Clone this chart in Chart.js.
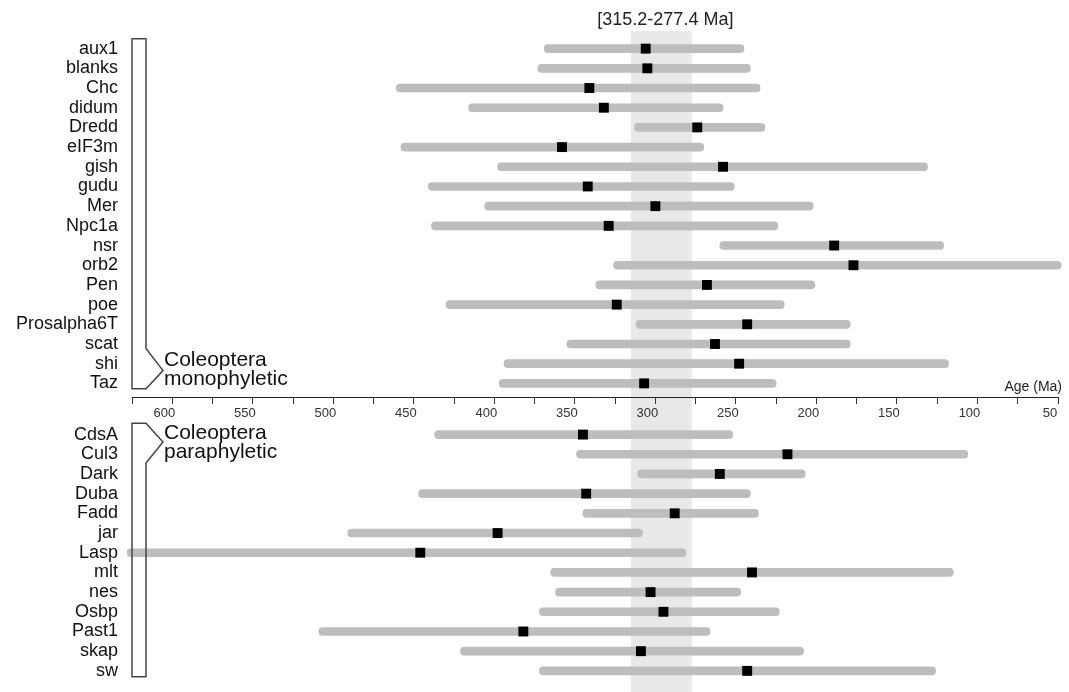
<!DOCTYPE html>
<html>
<head>
<meta charset="utf-8">
<script src="https://cdn.jsdelivr.net/npm/chart.js@4"></script>
<style>
body{margin:0;background:#fff;}
#wrap{width:1069px;height:692px;}
</style>
</head>
<body>
<div id="wrap"><canvas id="mainChart" width="1069" height="692"></canvas></div>
<script>
// ================= DATA =================
let topGenes = ["aux1","blanks","Chc","didum","Dredd","eIF3m","gish","gudu","Mer","Npc1a","nsr","orb2","Pen","poe","Prosalpha6T","scat","shi","Taz"]
let topOld   = [369,373,461,416,313,458,398,441,406,439,260,326,337,430,312,355,394,397]
let topAge   = [306,305,341,332,274,358,258,342,300,329,189,177,268,324,243,263,248,307]
let topYoung = [245,241,235,258,232,270,131,251,202,224,121,48,201,220,179,179,118,225]

let bottomGenes = ["CdsA","Cul3","Dark","Duba","Fadd","jar","Lasp","mlt","nes","Osbp","Past1","skap","sw"]
let bottomOld   = [437,349,311,447,345,491,628,365,362,372,509,421,372]
let bottomAge   = [345,218,260,343,288,398,446,240,303,295,382,309,243]
let bottomYoung = [252,106,207,241,236,308,281,115,247,223,266,208,126]

let bandFrom = 315.2
let bandTo = 277.4
let bandLabel = "[315.2-277.4 Ma]"
let axisMin = 50
let axisMax = 625
let axisStep = 25

// ================= LAYOUT =================
let groupGap = 2.6
let axisRow = 17.72
let FONT = "'Liberation Sans', Arial, sans-serif"

let names = topGenes.concat(bottomGenes)
let rowPos = topGenes.map((g,i)=>i).concat(bottomGenes.map((g,i)=>topGenes.length - 1 + groupGap + i))
let olds = topOld.concat(bottomOld)
let ages = topAge.concat(bottomAge)
let youngs = topYoung.concat(bottomYoung)

let bars = names.map((n,i)=>({x:[olds[i],youngs[i]], y:rowPos[i]}))
let points = names.map((n,i)=>({x:ages[i], y:rowPos[i]}))

// ================= PLUGINS =================
let bandPlugin = {
id:"band",
beforeDraw(chart){
let ctx = chart.ctx
let xs = chart.scales.x
let a = xs.getPixelForValue(bandFrom)
let b = xs.getPixelForValue(bandTo)
ctx.save()
ctx.fillStyle = "#e8e8e8"
ctx.fillRect(a, 31, b-a, chart.height-31)
ctx.fillStyle = "#222"
ctx.font = "18px " + FONT
ctx.textAlign = "center"
ctx.textBaseline = "middle"
ctx.fillText(bandLabel, (a+b)/2 + 4, 20)
ctx.restore()
}
}

// bracket with the point near its top (paraphyletic)
function drawBracket(ctx, left, top, bottom, tipY){
let right = left + 14
let tipX = left + 31
ctx.beginPath()
ctx.moveTo(left, top)
ctx.lineTo(right, top)
ctx.lineTo(tipX, tipY)
ctx.lineTo(right, tipY + 21)
ctx.lineTo(right, bottom)
ctx.lineTo(left, bottom)
ctx.closePath()
ctx.stroke()
}

// bracket with the point near its bottom (monophyletic)
function drawBracketUp(ctx, left, top, bottom, tipY){
let right = left + 14
let tipX = left + 31
ctx.beginPath()
ctx.moveTo(left, top)
ctx.lineTo(right, top)
ctx.lineTo(right, tipY - 22)
ctx.lineTo(tipX, tipY)
ctx.lineTo(right, bottom)
ctx.lineTo(left, bottom)
ctx.closePath()
ctx.stroke()
}

let bracketPlugin = {
id:"brackets",
afterDatasetsDraw(chart){
let ctx = chart.ctx
let ys = chart.scales.y
let left = chart.chartArea.left
let lastTop = rowPos[topGenes.length-1]
let firstBot = rowPos[topGenes.length]
let lastBot = rowPos[rowPos.length-1]

ctx.save()
ctx.strokeStyle = "#444"
ctx.lineWidth = 1.5

let t1 = ys.getPixelForValue(-0.5)
let b1 = ys.getPixelForValue(lastTop + 0.27)
let tip1 = ys.getPixelForValue(lastTop - 0.65)
drawBracketUp(ctx, left, t1, b1, tip1)

let t2 = ys.getPixelForValue(firstBot - 0.57)
let b2 = ys.getPixelForValue(lastBot + 0.3)
let tip2 = ys.getPixelForValue(firstBot + 0.38)
drawBracket(ctx, left, t2, b2, tip2)

ctx.fillStyle = "#111"
ctx.font = "21px " + FONT
ctx.textAlign = "left"
ctx.textBaseline = "alphabetic"
ctx.fillText("Coleoptera", left + 32, tip1 - 5)
ctx.fillText("monophyletic", left + 32, tip1 + 14.5)
ctx.fillText("Coleoptera", left + 32, tip2 - 3)
ctx.fillText("paraphyletic", left + 32, tip2 + 16)

// axis title
let ax = ys.getPixelForValue(axisRow)
ctx.font = "14px " + FONT
ctx.textAlign = "right"
ctx.textBaseline = "middle"
ctx.fillStyle = "#222"
ctx.fillText("Age (Ma)", chart.chartArea.right + 4, ax - 10)
ctx.restore()
}
}

// ================= CHART =================
let ctx = document.getElementById("mainChart")

new Chart(ctx,{
type:"bar",
data:{
datasets:[
{
type:"scatter",
data:points,
order:0,
pointStyle:"rect",
pointRadius:7,
pointHoverRadius:7,
pointBorderWidth:0,
backgroundColor:"#000",
borderColor:"#000"
},
{
type:"bar",
data:bars,
order:1,
backgroundColor:"#bdbdbd",
barThickness:8,
borderRadius:4,
borderSkipped:false,
clip:false
}
]
},
plugins:[bandPlugin, bracketPlugin],
options:{
indexAxis:"y",
responsive:false,
animation:false,
events:[],
layout:{padding:{top:28,right:11,bottom:0,left:0}},
plugins:{legend:{display:false},tooltip:{enabled:false}},
scales:{
x:{
type:"linear",
reverse:true,
min:axisMin,
max:axisMax,
position:{y:axisRow},
afterFit:(scale)=>{ scale.height = 0 },
grid:{drawOnChartArea:false,drawTicks:true,tickLength:6,color:"#333"},
border:{display:true,color:"#222",width:1},
ticks:{
stepSize:axisStep,
autoSkip:false,
maxRotation:0,
padding:2,
labelOffset:-8,
color:"#333",
font:{size:13,family:FONT},
callback:(v)=> v % 50 === 0 ? v : ""
}
},
y:{
type:"linear",
reverse:true,
min:-0.51,
max:31.78,
afterFit:(scale)=>{ scale.width = 132; scale.paddingTop = 0; scale.paddingBottom = 0 },
afterBuildTicks:(scale)=>{ scale.ticks = rowPos.map(v=>({value:v})) },
grid:{display:false,drawTicks:false},
border:{display:false},
ticks:{
autoSkip:false,
padding:14,
color:"#111",
font:{size:18,family:FONT},
callback:(v,i)=> names[i]
}
}
}
}
})
</script>
</body>
</html>
